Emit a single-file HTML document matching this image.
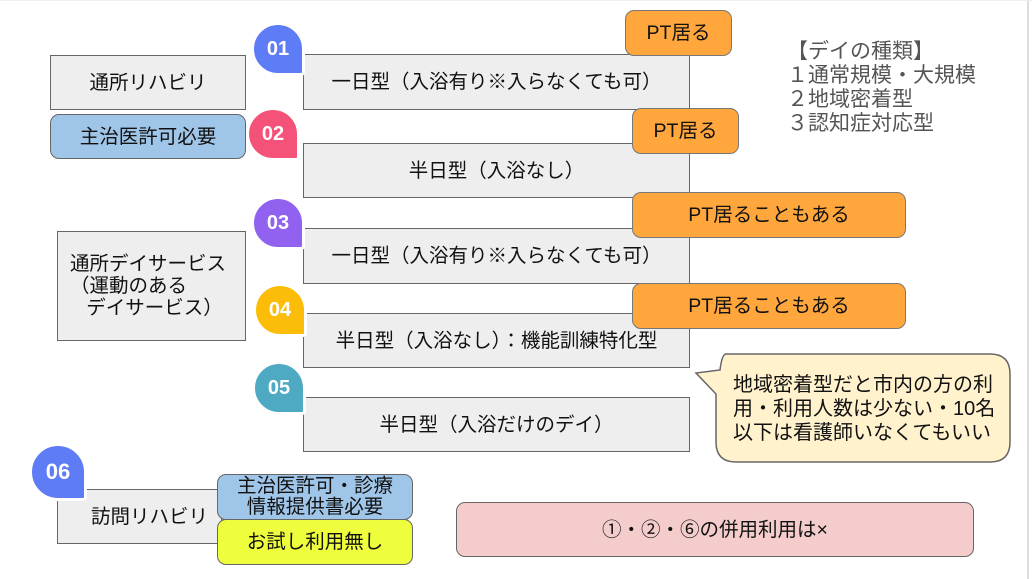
<!DOCTYPE html>
<html><head><meta charset="utf-8"><style>
body{margin:0;width:1032px;height:579px;background:#fff;position:relative;overflow:hidden;font-family:"Liberation Sans","Noto Sans CJK JP",sans-serif;color:#111}
.b{position:absolute;box-sizing:border-box;border:1.5px solid #666;background:#eee;display:flex;align-items:center;justify-content:center;text-align:center;font-size:19.5px;line-height:22px}
.r{border-radius:9px}
.o{background:#ffa63d;border-color:#777}
.badge{position:absolute;width:48px;height:48px;border-radius:50% 50% 4px 50%;color:#fff;font-weight:bold;font-size:20px;display:flex;align-items:center;justify-content:center;border:3px solid #fff;box-sizing:content-box}
</style></head><body>
<div style="position:absolute;left:1027px;top:0;width:2px;height:579px;background:#ddd"></div>
<div style="position:absolute;left:0;top:0;width:1032px;height:1px;background:#eee"></div>

<div class="b" style="left:50px;top:55px;width:196px;height:55px">通所リハビリ</div>
<div class="b r" style="left:50px;top:114px;width:196px;height:45px;background:#9fc5e8">主治医許可必要</div>
<div class="b" style="left:57px;top:231px;width:189px;height:110px;justify-content:flex-start;text-align:left;padding-left:12px">通所デイサービス<br>（運動のある<br>&nbsp;&nbsp;&nbsp;デイサービス）</div>

<div class="b" style="left:303px;top:54px;width:387px;height:56px">一日型（入浴有り※入らなくても可）</div>
<div class="b" style="left:303px;top:143px;width:387px;height:55px">半日型（入浴なし）</div>
<div class="b" style="left:303px;top:228px;width:387px;height:56px">一日型（入浴有り※入らなくても可）</div>
<div class="b" style="left:303px;top:313px;width:387px;height:55px">半日型（入浴なし）：機能訓練特化型</div>
<div class="b" style="left:303px;top:397px;width:387px;height:55px">半日型（入浴だけのデイ）</div>

<div class="badge" style="left:251px;top:22px;background:#5f7cf7">01</div>
<div class="badge" style="left:246px;top:107px;background:#f5527a">02</div>
<div class="badge" style="left:251px;top:196px;background:#9161f0">03</div>
<div class="badge" style="left:253px;top:283px;background:#fbbd08">04</div>
<div class="badge" style="left:252px;top:361px;background:#4eaac2">05</div>

<div class="b o r" style="left:625px;top:10px;width:107px;height:46px">PT居る</div>
<div class="b o r" style="left:632px;top:108px;width:107px;height:46px">PT居る</div>
<div class="b o r" style="left:632px;top:192px;width:274px;height:46px">PT居ることもある</div>
<div class="b o r" style="left:632px;top:283px;width:274px;height:46px">PT居ることもある</div>

<div style="position:absolute;left:787px;top:40px;font-size:21px;line-height:24px;color:#555">【デイの種類】<br>１通常規模・大規模<br>２地域密着型<br>３認知症対応型</div>

<svg style="position:absolute;left:690px;top:350px" width="330" height="120"><path d="M36 4 H300 Q320 4 320 24 V92 Q320 112 300 112 H46 Q26 112 26 92 V44 L6 23 L30 20 Q32 4 36 4 Z" fill="#fff2cc" stroke="#666" stroke-width="1.5"/></svg>
<div style="position:absolute;left:733px;top:373px;font-size:20px;line-height:24px;width:264px;word-break:break-all">地域密着型だと市内の方の利用・利用人数は少ない・10名以下は看護師いなくてもいい</div>

<div class="b" style="left:57px;top:489px;width:165px;height:55px;justify-content:flex-start;padding-left:33px">訪問リハビリ</div>
<div class="badge" style="left:29px;top:443px;width:52px;height:52px;background:#5f7cf7;font-size:22px">06</div>
<div class="b r" style="left:217px;top:474px;width:196px;height:46px;background:#9fc5e8;line-height:21px">主治医許可・診療<br>情報提供書必要</div>
<div class="b r" style="left:217px;top:519px;width:196px;height:46px;background:#eefd3c">お試し利用無し</div>

<div class="b r" style="left:456px;top:502px;width:518px;height:55px;background:#f4cccc">①・②・⑥の併用利用は×</div>
</body></html>
